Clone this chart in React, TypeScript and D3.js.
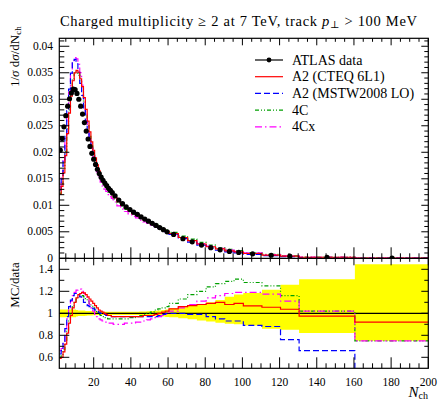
import React from 'react';
import * as d3 from 'd3';

// N_ch bin edges
const binEdges = [
  1.5, 2.5, 3.5, 4.5, 5.5, 6.5, 7.5, 8.5, 9.5, 10.5,
  11.5, 12.5, 13.5, 14.5, 15.5, 16.5, 17.5, 18.5, 19.5, 20.5,
  21.5, 22.5, 23.5, 24.5, 25.5, 26.5, 27.5, 28.5, 29.5, 30.5,
  32.5, 34.5, 36.5, 38.5, 40.5, 42.5, 44.5, 46.5, 48.5, 50.5,
  52.5, 54.5, 56.5, 58.5, 60.5,
  65.5, 70.5, 75.5, 80.5, 85.5, 90.5, 95.5, 100.5,
  110.5, 120.5, 130.5, 160.5, 200.5,
];

// ATLAS data, 1/sigma dsigma/dNch
const atlasData = [
  0.0204, 0.0226, 0.0248, 0.0269, 0.0287, 0.0301, 0.0312, 0.0319, 0.0318, 0.0311,
  0.0300, 0.0287, 0.0272, 0.0256, 0.0240, 0.0225, 0.0211, 0.0198, 0.0187, 0.0177,
  0.0168, 0.0160, 0.0153, 0.0147, 0.0142, 0.0137, 0.0132, 0.0128, 0.0124,
  0.0118, 0.0110, 0.0103, 0.0097, 0.0092, 0.0087, 0.0083, 0.0078, 0.0074, 0.0070,
  0.0066, 0.0062, 0.0058, 0.0054, 0.0050,
  0.0045, 0.0037, 0.0031, 0.0025, 0.0020, 0.0016, 0.0013, 0.0011,
  0.00085, 0.00058, 0.0004, 0.0002, 0.00006,
];
// relative uncertainty of the data (yellow band)
const errUp = [
  0.035, 0.035, 0.035, 0.035, 0.035, 0.035, 0.035, 0.035, 0.035, 0.03,
  0.025, 0.025, 0.025, 0.025, 0.022, 0.02, 0.02, 0.02, 0.018, 0.018,
  0.016, 0.016, 0.015, 0.015, 0.015, 0.015, 0.015, 0.015, 0.015,
  0.015, 0.015, 0.015, 0.015, 0.015, 0.015, 0.015, 0.016, 0.017, 0.018,
  0.02, 0.023, 0.026, 0.03, 0.034,
  0.045, 0.06, 0.07, 0.085, 0.10, 0.12, 0.15, 0.17,
  0.185, 0.215, 0.26, 0.31, 0.445,
];
const errDown = [
  0.035, 0.035, 0.035, 0.035, 0.035, 0.035, 0.035, 0.035, 0.035, 0.03,
  0.025, 0.025, 0.025, 0.025, 0.022, 0.02, 0.02, 0.02, 0.018, 0.018,
  0.016, 0.016, 0.015, 0.015, 0.015, 0.015, 0.015, 0.015, 0.015,
  0.015, 0.015, 0.015, 0.015, 0.015, 0.015, 0.015, 0.016, 0.017, 0.018,
  0.02, 0.023, 0.026, 0.03, 0.034,
  0.035, 0.045, 0.055, 0.065, 0.075, 0.085, 0.095, 0.10,
  0.11, 0.14, 0.15, 0.18, 0.25,
];

// MC / data ratios
const a2Cteq = [
  0.59, 0.60, 0.65, 0.72, 0.82, 0.91, 0.98, 1.05, 1.10, 1.14,
  1.17, 1.18, 1.19, 1.185, 1.17, 1.15, 1.13, 1.11, 1.09, 1.07,
  1.05, 1.03, 1.02, 1.01, 1.00, 0.99, 0.98, 0.98, 0.97,
  0.97, 0.97, 0.97, 0.97, 0.97, 0.97, 0.97, 0.97, 0.98, 0.98,
  0.98, 0.99, 1.00, 1.01, 1.02,
  1.04, 1.06, 1.07, 1.08, 1.09, 1.10, 1.08, 1.09,
  1.067, 1.055, 1.037, 0.975, 0.92,
];
const a2Mstw = [
  0.63, 0.66, 0.74, 0.86, 0.97, 1.06, 1.12, 1.16, 1.18, 1.18,
  1.17, 1.15, 1.13, 1.10, 1.08, 1.07, 1.06, 1.05, 1.04, 1.03,
  1.02, 1.01, 1.00, 0.99, 0.99, 0.98, 0.98, 0.98, 0.97,
  0.97, 0.97, 0.97, 0.97, 0.97, 0.97, 0.97, 0.97, 0.97, 0.97,
  0.97, 0.97, 0.98, 0.99, 1.00,
  1.00, 1.00, 0.99, 0.99, 0.97, 0.95, 0.93, 0.93,
  0.89, 0.88, 0.76, 0.66, 0.45,
];
const tune4C = [
  0.60, 0.62, 0.67, 0.75, 0.85, 0.93, 1.00, 1.06, 1.10, 1.13,
  1.15, 1.16, 1.16, 1.15, 1.13, 1.11, 1.09, 1.07, 1.05, 1.03,
  1.01, 0.99, 0.98, 0.97, 0.96, 0.96, 0.95, 0.95, 0.95,
  0.95, 0.95, 0.95, 0.95, 0.96, 0.96, 0.97, 0.98, 0.99, 1.00,
  1.01, 1.03, 1.04, 1.05, 1.06,
  1.09, 1.13, 1.17, 1.20, 1.24, 1.27, 1.29, 1.31,
  1.28, 1.25, 1.16, 1.02, 0.75,
];
const tune4Cx = [
  0.66, 0.68, 0.74, 0.84, 0.95, 1.04, 1.11, 1.16, 1.19, 1.21,
  1.22, 1.22, 1.20, 1.18, 1.15, 1.12, 1.08, 1.05, 1.02, 0.99,
  0.97, 0.95, 0.94, 0.93, 0.92, 0.92, 0.91, 0.91, 0.91,
  0.90, 0.90, 0.90, 0.91, 0.91, 0.91, 0.92, 0.92, 0.93, 0.94,
  0.95, 0.96, 0.97, 0.98, 0.99,
  1.02, 1.05, 1.08, 1.11, 1.14, 1.16, 1.18, 1.19,
  1.19, 1.175, 1.11, 1.02, 0.75,
];

const series = [
  { name: '4C', ratio: tune4C, color: '#00a000', dash: '4,2,1,2,1,2' },
  { name: '4Cx', ratio: tune4Cx, color: '#ff00ff', dash: '7,3,1.5,3' },
  { name: 'A2 (MSTW2008 LO)', ratio: a2Mstw, color: '#0000ff', dash: '6,3' },
  { name: 'A2 (CTEQ 6L1)', ratio: a2Cteq, color: '#ff0000', dash: null },
];
const legendOrder = ['A2 (CTEQ 6L1)', 'A2 (MSTW2008 LO)', '4C', '4Cx'];

const mainYTicks = [0, 0.005, 0.01, 0.015, 0.02, 0.025, 0.03, 0.035, 0.04];
const ratioYTicks = [0.6, 0.8, 1, 1.2, 1.4];
const xTicks = [20, 40, 60, 80, 100, 120, 140, 160, 180, 200];

const W = 438, H = 402;
const left = 59.3, right = 428.3;
const mainTop = 38.3, mainBottom = 258.3, ratioBottom = 368.3;
const font = '"Liberation Serif", "DejaVu Serif", serif';

export default function App() {
  const x = d3.scaleLinear().domain([1.5, 200]).range([left, right]);
  const y = d3.scaleLinear().domain([0, 0.0415]).range([mainBottom, mainTop]);
  const yr = d3.scaleLinear().domain([0.5, 1.5]).range([ratioBottom, mainBottom]);

  const steps = (vals: number[]) =>
    vals.flatMap((v, i) => [[binEdges[i], v], [binEdges[i + 1], v]] as [number, number][]);

  const mainLine = d3.line<[number, number]>().x(d => x(d[0])).y(d => y(d[1]));
  const ratioLine = d3.line<[number, number]>().x(d => x(d[0])).y(d => yr(d[1]));

  const bandPts = atlasData.flatMap((_, i) => [
    { e: binEdges[i], lo: 1 - errDown[i], hi: 1 + errUp[i] },
    { e: binEdges[i + 1], lo: 1 - errDown[i], hi: 1 + errUp[i] },
  ]);
  const band = d3.area<{ e: number; lo: number; hi: number }>()
    .x(d => x(d.e)).y0(d => yr(d.lo)).y1(d => yr(d.hi));

  const xMinor = d3.range(5, 201, 5).filter(v => v % 20 !== 0);
  const mainMinor = d3.range(1, 42).map(v => v / 1000).filter(v => Math.round(v * 1000) % 5 !== 0);
  const ratioMinor = [0.7, 0.9, 1.1, 1.3];

  const lines: JSX.Element[] = [];
  const tk = (x1: number, y1: number, x2: number, y2: number, k: string) =>
    lines.push(<line key={k} x1={x1} y1={y1} x2={x2} y2={y2} stroke="#000" strokeWidth={1} />);

  // x ticks on both panels, all four horizontal edges
  [...xTicks.map(v => ({ v, maj: true })), ...xMinor.map(v => ({ v, maj: false }))].forEach(({ v, maj }, i) => {
    const px = x(v);
    const lb = maj ? 11 : 5, lt = maj ? 7 : 3.5;
    tk(px, mainTop, px, mainTop + lt, 'mt' + i);
    tk(px, mainBottom, px, mainBottom - lb, 'mb' + i);
    tk(px, mainBottom, px, mainBottom + lt, 'rt' + i);
    tk(px, ratioBottom, px, ratioBottom - lb, 'rb' + i);
  });
  [...mainYTicks.map(v => ({ v, maj: true })), ...mainMinor.map(v => ({ v, maj: false }))].forEach(({ v, maj }, i) => {
    const py = y(v);
    tk(left, py, left + (maj ? 10 : 5), py, 'ml' + i);
    tk(right, py, right - (maj ? 7 : 4), py, 'mr' + i);
  });
  [...ratioYTicks.map(v => ({ v, maj: true })), ...ratioMinor.map(v => ({ v, maj: false }))].forEach(({ v, maj }, i) => {
    const py = yr(v);
    tk(left, py, left + (maj ? 10 : 5), py, 'rl' + i);
    tk(right, py, right - (maj ? 7 : 4), py, 'rr' + i);
  });

  const fmt = (v: number) => String(+v.toFixed(3));

  return (
    <svg width={W} height={H} style={{ position: 'absolute', left: 0, top: 0, background: '#fff' }}
      fontFamily={font}>
      <defs>
        <clipPath id="clipMain"><rect x={left} y={mainTop} width={right - left} height={mainBottom - mainTop} /></clipPath>
        <clipPath id="clipRatio"><rect x={left} y={mainBottom} width={right - left} height={ratioBottom - mainBottom} /></clipPath>
      </defs>

      <text x={60} y={26} fontSize={14.5} textLength={357} lengthAdjust="spacing">
        Charged multiplicity ≥ 2 at 7 TeV, track <tspan fontStyle="italic">p</tspan>
        <tspan fontSize={10} dy={2}>⊥</tspan><tspan dy={-2}> &gt; 100 MeV</tspan>
      </text>

      {/* main panel */}
      <g clipPath="url(#clipMain)">
        {series.map(s => (
          <path key={s.name} d={mainLine(steps(s.ratio.map((r, i) => r * atlasData[i]))) || ''}
            fill="none" stroke={s.color} strokeWidth={1.2} strokeDasharray={s.dash || undefined} />
        ))}
        {atlasData.map((v, i) => (
          <circle key={i} cx={x((binEdges[i] + binEdges[i + 1]) / 2)} cy={y(v)} r={2.6} fill="#000" />
        ))}
      </g>

      {/* ratio panel */}
      <g clipPath="url(#clipRatio)">
        <path d={band(bandPts) || ''} fill="#ffff00" stroke="none" />
        <line x1={left} x2={right} y1={yr(1)} y2={yr(1)} stroke="#000" strokeWidth={1.2} />
        {series.map(s => (
          <path key={s.name} d={ratioLine(steps(s.ratio)) || ''}
            fill="none" stroke={s.color} strokeWidth={1.2} strokeDasharray={s.dash || undefined} />
        ))}
      </g>

      {lines}
      <rect x={left} y={mainTop} width={right - left} height={ratioBottom - mainTop} fill="none" stroke="#000" strokeWidth={1.2} />
      <line x1={left} x2={right} y1={mainBottom} y2={mainBottom} stroke="#000" strokeWidth={1.2} />

      {/* legend */}
      <g fontSize={14}>
        <line x1={255} x2={283} y1={60} y2={60} stroke="#000" strokeWidth={1.2} />
        <circle cx={269} cy={60} r={2.4} fill="#000" />
        <text x={292} y={64.5}>ATLAS data</text>
        {legendOrder.map((n, i) => {
          const s = series.find(d => d.name === n)!;
          const ly = 76.7 + i * 16.7;
          return (
            <g key={n}>
              <line x1={255} x2={283} y1={ly} y2={ly} stroke={s.color} strokeWidth={1.2} strokeDasharray={s.dash || undefined} />
              <text x={292} y={ly + 4.5}>{n}</text>
            </g>
          );
        })}
      </g>

      {/* tick labels */}
      <g fontSize={11.5}>
        {mainYTicks.map(v => (
          <text key={'ym' + v} x={53} y={y(v) + 3.5} textAnchor="end">{fmt(v)}</text>
        ))}
        {ratioYTicks.map(v => (
          <text key={'yr' + v} x={53} y={yr(v) + 3.5} textAnchor="end">{fmt(v)}</text>
        ))}
        {xTicks.map(v => (
          <text key={'x' + v} x={x(v)} y={386} textAnchor="middle">{v}</text>
        ))}
      </g>

      {/* axis labels */}
      <text transform={`translate(19,${mainTop - 12}) rotate(-90)`} textAnchor="end" fontSize={13}>
        1/<tspan fontStyle="italic">σ</tspan> d<tspan fontStyle="italic">σ</tspan>/dN<tspan fontSize={9} dy={2}>ch</tspan>
      </text>
      <text transform={`translate(19,${mainBottom + 4}) rotate(-90)`} textAnchor="end" fontSize={13}>MC/data</text>
      <text x={428} y={397} textAnchor="end" fontSize={15}>
        <tspan fontStyle="italic">N</tspan><tspan fontSize={10} dy={2}>ch</tspan>
      </text>
    </svg>
  );
}
